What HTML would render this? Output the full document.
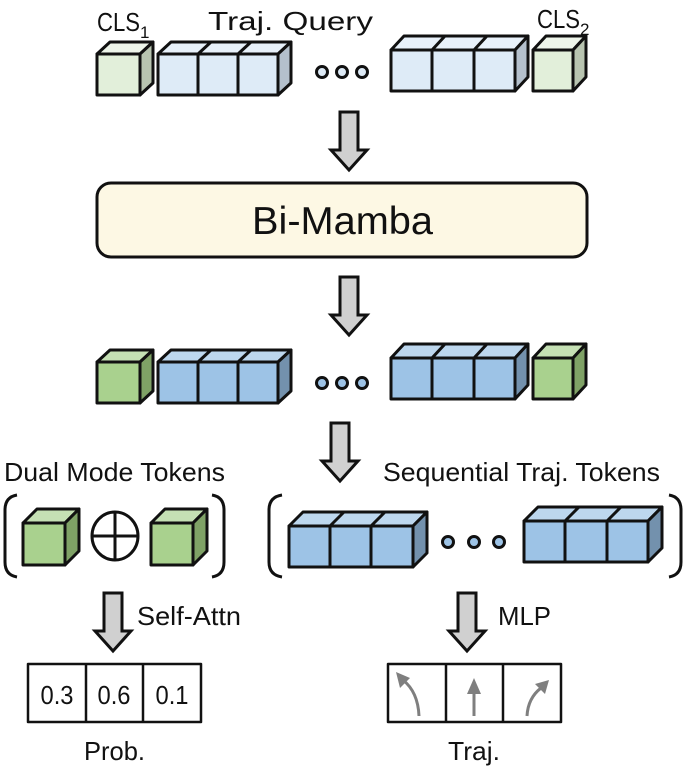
<!DOCTYPE html>
<html><head><meta charset="utf-8"><style>
html,body{margin:0;padding:0;background:#fff;}
svg{display:block;}
text{font-family:"Liberation Sans","DejaVu Sans",sans-serif;fill:#111;}
</style></head><body>
<svg width="684" height="767" viewBox="0 0 684 767" xmlns="http://www.w3.org/2000/svg">
<defs>
<g id="arrow"><polygon points="-9,0 9,0 9,38 18,38 0,58 -18,38 -9,38" fill="#d0d0d0" stroke="#111" stroke-width="3" stroke-linejoin="miter"/></g>
</defs>
<g stroke="#111" stroke-width="3" stroke-linejoin="round">
<!-- Top row -->
<text x="97" y="31" font-size="26" stroke="none" textLength="43" lengthAdjust="spacingAndGlyphs">CLS</text><text x="140" y="38" font-size="17" stroke="none">1</text>
<text x="208" y="30" font-size="26" stroke="none" textLength="165" lengthAdjust="spacingAndGlyphs">Traj. Query</text>
<text x="537" y="28" font-size="26" stroke="none" textLength="43" lengthAdjust="spacingAndGlyphs">CLS</text><text x="580" y="35" font-size="17" stroke="none">2</text>
<!-- CLS1 -->
<polygon points="97,54 110,42 153,42 140,54" fill="#eef5ea"/>
<polygon points="140,54 153,42 153,83 140,95" fill="#b8c4b0"/>
<rect x="97" y="54" width="43" height="41" fill="#e2efda"/>
<!-- bar1 -->
<polygon points="158,54 171,42 291,42 278,54" fill="#e8f1fa"/>
<line x1="198" y1="54" x2="211" y2="42"/><line x1="238" y1="54" x2="251" y2="42"/>
<polygon points="278,54 291,42 291,83 278,95" fill="#b4c0cc"/>
<rect x="158" y="54" width="120" height="41" fill="#deebf7"/>
<line x1="198" y1="54" x2="198" y2="95"/><line x1="238" y1="54" x2="238" y2="95"/>
<circle cx="322" cy="72" r="5.5" fill="#deebf7"/><circle cx="342" cy="72" r="5.5" fill="#deebf7"/><circle cx="362" cy="72" r="5.5" fill="#deebf7"/>
<!-- bar2 -->
<polygon points="391,50 404,36 528,36 515,50" fill="#e8f1fa"/>
<line x1="432" y1="50" x2="445" y2="36"/><line x1="474" y1="50" x2="487" y2="36"/>
<polygon points="515,50 528,36 528,77 515,91" fill="#b4c0cc"/>
<rect x="391" y="50" width="124" height="41" fill="#deebf7"/>
<line x1="432" y1="50" x2="432" y2="91"/><line x1="474" y1="50" x2="474" y2="91"/>
<!-- CLS2 -->
<polygon points="533,50 546,36 586,36 573,50" fill="#eef5ea"/>
<polygon points="573,50 586,36 586,77 573,91" fill="#b8c4b0"/>
<rect x="533" y="50" width="40" height="41" fill="#e2efda"/>

<use href="#arrow" x="349" y="112"/>
<rect x="97" y="183" width="490" height="74" rx="14" fill="#fdf8e4"/>
<text x="252" y="234" font-size="39" stroke="none" textLength="181" lengthAdjust="spacingAndGlyphs">Bi-Mamba</text>
<use href="#arrow" x="349" y="277"/>

<!-- Row 2 -->
<polygon points="97,362 110,350 153,350 140,362" fill="#c5e0b4"/>
<polygon points="140,362 153,350 153,391 140,403" fill="#7fa266"/>
<rect x="97" y="362" width="43" height="41" fill="#a9d18e"/>
<polygon points="158,362 171,350 291,350 278,362" fill="#bdd7ee"/>
<line x1="198" y1="362" x2="211" y2="350"/><line x1="238" y1="362" x2="251" y2="350"/>
<polygon points="278,362 291,350 291,391 278,403" fill="#7391ad"/>
<rect x="158" y="362" width="120" height="41" fill="#9dc3e6"/>
<line x1="198" y1="362" x2="198" y2="403"/><line x1="238" y1="362" x2="238" y2="403"/>
<circle cx="322" cy="383" r="5.5" fill="#9dc3e6"/><circle cx="342" cy="383" r="5.5" fill="#9dc3e6"/><circle cx="362" cy="383" r="5.5" fill="#9dc3e6"/>
<polygon points="391,358 404,344 528,344 515,358" fill="#bdd7ee"/>
<line x1="432" y1="358" x2="445" y2="344"/><line x1="474" y1="358" x2="487" y2="344"/>
<polygon points="515,358 528,344 528,385 515,399" fill="#7391ad"/>
<rect x="391" y="358" width="124" height="41" fill="#9dc3e6"/>
<line x1="432" y1="358" x2="432" y2="399"/><line x1="474" y1="358" x2="474" y2="399"/>
<polygon points="533,358 546,344 586,344 573,358" fill="#c5e0b4"/>
<polygon points="573,358 586,344 586,385 573,399" fill="#7fa266"/>
<rect x="533" y="358" width="40" height="41" fill="#a9d18e"/>

<use href="#arrow" x="340" y="423"/>

<text x="4" y="481" font-size="26" stroke="none" textLength="221" lengthAdjust="spacingAndGlyphs">Dual Mode Tokens</text>
<text x="383" y="481" font-size="26" stroke="none" textLength="277" lengthAdjust="spacingAndGlyphs">Sequential Traj. Tokens</text>

<!-- brackets -->
<path d="M17,495 Q5,497 5,510 L5,562 Q5,575 17,577" fill="none"/>
<path d="M212,495 Q224,497 224,510 L224,562 Q224,575 212,577" fill="none"/>
<path d="M282,495 Q269,497 269,510 L269,562 Q269,575 282,577" fill="none"/>
<path d="M669,495 Q681,497 681,510 L681,562 Q681,575 669,577" fill="none"/>

<!-- green cubes -->
<polygon points="23,523 37,509 79,509 65,523" fill="#c5e0b4"/>
<polygon points="65,523 79,509 79,551 65,565" fill="#7fa266"/>
<rect x="23" y="523" width="42" height="42" fill="#a9d18e"/>
<ellipse cx="115" cy="536" rx="23" ry="24" fill="#fff"/>
<line x1="92" y1="536" x2="138" y2="536"/><line x1="115" y1="512" x2="115" y2="560"/>
<polygon points="151,523 165,509 207,509 193,523" fill="#c5e0b4"/>
<polygon points="193,523 207,509 207,551 193,565" fill="#7fa266"/>
<rect x="151" y="523" width="42" height="42" fill="#a9d18e"/>

<!-- blue bars bottom -->
<polygon points="289,526 303,512 427,512 413,526" fill="#bdd7ee"/>
<line x1="330" y1="526" x2="344" y2="512"/><line x1="371" y1="526" x2="385" y2="512"/>
<polygon points="413,526 427,512 427,553 413,567" fill="#7391ad"/>
<rect x="289" y="526" width="124" height="41" fill="#9dc3e6"/>
<line x1="330" y1="526" x2="330" y2="567"/><line x1="371" y1="526" x2="371" y2="567"/>
<circle cx="448" cy="542" r="5.5" fill="#9dc3e6"/><circle cx="474" cy="542" r="5.5" fill="#9dc3e6"/><circle cx="499" cy="542" r="5.5" fill="#9dc3e6"/>
<polygon points="524,521 538,507 662,507 648,521" fill="#bdd7ee"/>
<line x1="565" y1="521" x2="579" y2="507"/><line x1="607" y1="521" x2="621" y2="507"/>
<polygon points="648,521 662,507 662,548 648,562" fill="#7391ad"/>
<rect x="524" y="521" width="124" height="41" fill="#9dc3e6"/>
<line x1="565" y1="521" x2="565" y2="562"/><line x1="607" y1="521" x2="607" y2="562"/>

<use href="#arrow" x="113" y="593"/>
<use href="#arrow" x="467" y="593"/>
<text x="137" y="625" font-size="26" stroke="none" textLength="104" lengthAdjust="spacingAndGlyphs">Self-Attn</text>
<text x="498" y="625" font-size="26" stroke="none" textLength="53" lengthAdjust="spacingAndGlyphs">MLP</text>

<!-- prob box -->
<rect x="28" y="664" width="173" height="58" fill="#fff" stroke-width="2.5"/>
<line x1="86" y1="664" x2="86" y2="722" stroke-width="2.5"/><line x1="143" y1="664" x2="143" y2="722" stroke-width="2.5"/>
<text x="57" y="704" font-size="26" stroke="none" text-anchor="middle" textLength="33" lengthAdjust="spacingAndGlyphs">0.3</text>
<text x="114" y="704" font-size="26" stroke="none" text-anchor="middle" textLength="33" lengthAdjust="spacingAndGlyphs">0.6</text>
<text x="172" y="704" font-size="26" stroke="none" text-anchor="middle" textLength="33" lengthAdjust="spacingAndGlyphs">0.1</text>
<text x="84" y="760" font-size="26" stroke="none" textLength="61" lengthAdjust="spacingAndGlyphs">Prob.</text>

<!-- traj box -->
<rect x="388" y="664" width="173" height="58" fill="#fff" stroke-width="2.5"/>
<line x1="446" y1="664" x2="446" y2="722" stroke-width="2.5"/><line x1="503" y1="664" x2="503" y2="722" stroke-width="2.5"/>
<g stroke="#7f7f7f" stroke-width="3" fill="none">
<path d="M419,716 Q418,692 403,680"/>
<line x1="474" y1="716" x2="474" y2="692"/>
<path d="M527,716 Q528,698 541,688"/>
</g>
<g stroke="none" fill="#7f7f7f">
<polygon points="396,672 410,678 400,688"/>
<polygon points="474,678 467,694 481,694"/>
<polygon points="549,680 535,684 545,694"/>
</g>
<text x="448" y="760" font-size="26" stroke="none" textLength="52" lengthAdjust="spacingAndGlyphs">Traj.</text>
</g>
</svg>
</body></html>
